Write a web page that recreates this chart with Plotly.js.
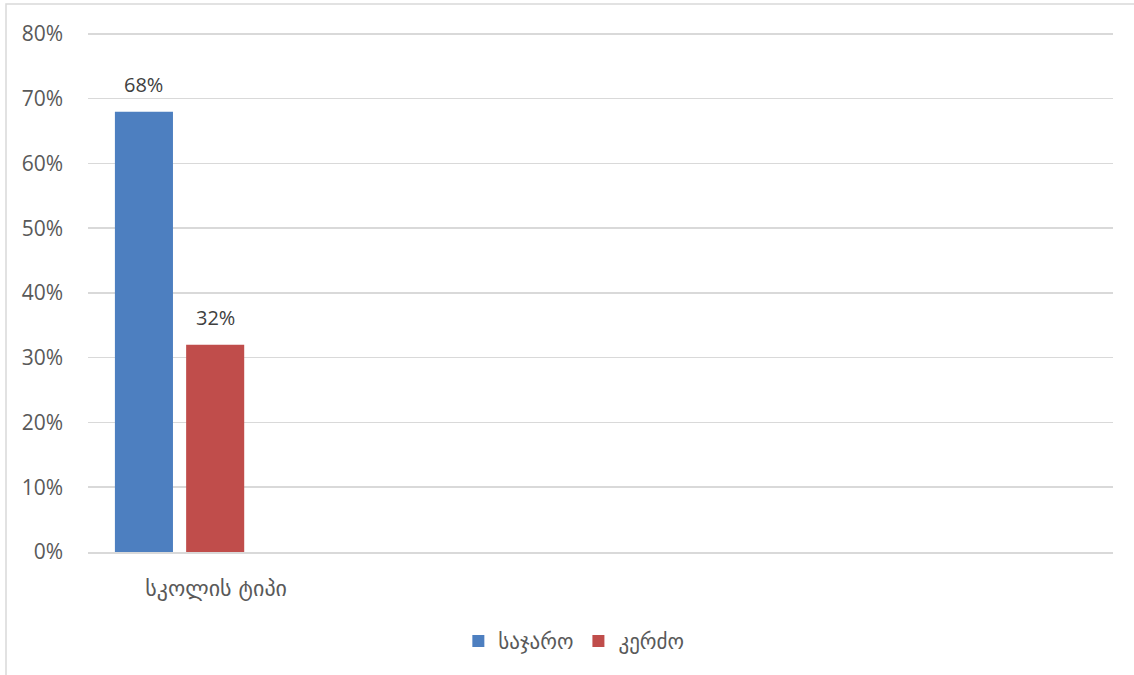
<!DOCTYPE html>
<html>
<head>
<meta charset="utf-8">
<script src="https://cdn.plot.ly/plotly-3.0.1.min.js"></script>
<style>
  html, body { margin: 0; padding: 0; background: #ffffff; }
  #chart { width: 1134px; height: 675px; }
</style>
</head>
<body>
<div id="chart"></div>
<script>
const categories = ["სკოლის ტიპი"];
const seriesNames = ["საჯარო", "კერძო"];
const publicValues = [0.68];
const privateValues = [0.32];
const yTickVals = [0, 0.1, 0.2, 0.3, 0.4, 0.5, 0.6, 0.7, 0.8];
const yTickText = ["0%", "10%", "20%", "30%", "40%", "50%", "60%", "70%", "80%"];

const fontFam = "'Open Sans', 'DejaVu Sans', sans-serif";
const geoFont = "'DejaVu Sans', 'Open Sans', sans-serif";

function pct(v) { return Math.round(v * 100) + "%"; }

const barOffsets = [-0.395, -0.117];
const barWidth = 0.2266;
const seriesValues = [publicValues, privateValues];
const seriesColors = ["#4d7fc0", "#c04d4b"];

const traces = seriesValues.map((vals, i) => ({
  type: "bar",
  name: seriesNames[i],
  x: categories,
  y: vals,
  width: barWidth,
  offset: barOffsets[i],
  marker: { color: seriesColors[i] },
  hoverinfo: "skip"
}));

// data labels positioned from the data through the axes
const annotations = [];
seriesValues.forEach((vals, i) => {
  vals.forEach((v, j) => {
    annotations.push({
      xref: "x", yref: "y",
      x: j + barOffsets[i] + barWidth / 2,
      y: v,
      text: pct(v),
      showarrow: false,
      yanchor: "bottom",
      yshift: 12,
      font: { family: fontFam, size: 20, color: "#404040" }
    });
  });
});

const layout = {
  width: 1134,
  height: 675,
  margin: { l: 88, r: 21, t: 32, b: 123 },
  paper_bgcolor: "#ffffff",
  plot_bgcolor: "#ffffff",
  showlegend: true,
  barmode: "group",
  font: { family: fontFam, color: "#595959", size: 18 },
  xaxis: {
    type: "category",
    range: [-0.5, 3.5],
    showgrid: false,
    zeroline: false,
    showline: true,
    linecolor: "#d9d9d9",
    linewidth: 1.5,
    ticks: "",
    ticklabelstandoff: 16,
    tickfont: { family: geoFont, size: 22, color: "#595959" },
    fixedrange: true
  },
  yaxis: {
    range: [0, 0.803],
    tickvals: yTickVals,
    ticktext: yTickText,
    showgrid: true,
    gridcolor: "#d9d9d9",
    gridwidth: 1.5,
    zeroline: false,
    showline: false,
    ticks: "",
    ticklabelstandoff: 24,
    tickfont: { family: fontFam, size: 21, color: "#595959" },
    fixedrange: true
  },
  legend: {
    orientation: "h",
    x: 0.474,
    xanchor: "center",
    y: -0.172,
    yanchor: "middle",
    font: { family: geoFont, size: 21, color: "#595959" },
    itemwidth: 30,
    traceorder: "normal"
  },
  annotations: annotations,
  shapes: [
    {
      type: "rect",
      xref: "paper", yref: "paper",
      x0: -0.08, x1: 1.2, y0: -0.5, y1: 1.054,
      line: { color: "#d9d9d9", width: 1.5 },
      fillcolor: "rgba(0,0,0,0)",
      layer: "below"
    }
  ]
};

Plotly.newPlot("chart", traces, layout, { displayModeBar: false, staticPlot: true });
</script>
</body>
</html>
